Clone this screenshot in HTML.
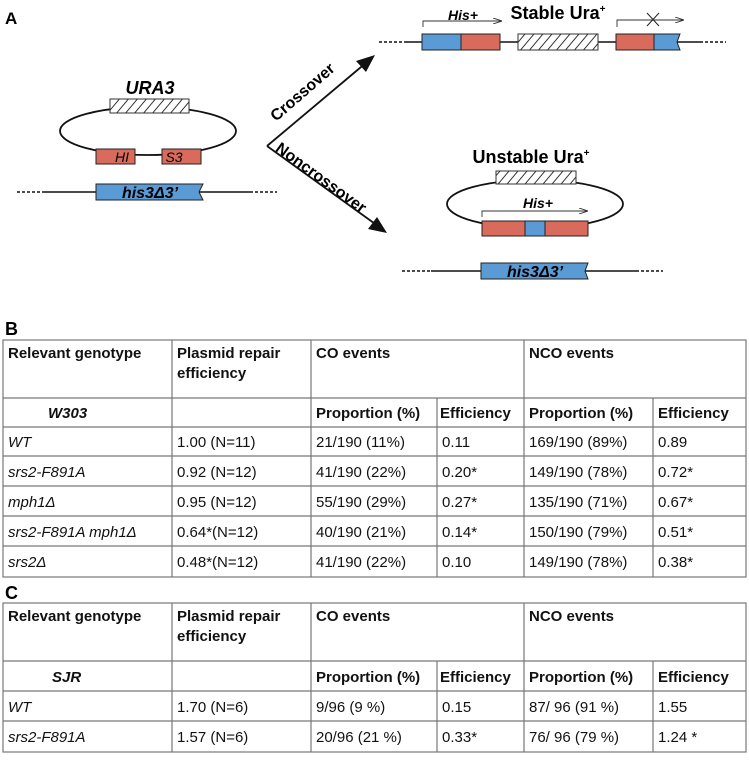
<!DOCTYPE html>
<html><head><meta charset="utf-8"><style>
html,body{margin:0;padding:0;background:#fff;}
svg{display:block;}
text{font-family:"Liberation Sans",sans-serif;}
.n{font-family:"Liberation Sans Narrow","Liberation Sans",sans-serif;}
.t{font-size:15px;fill:#111;}
.b{font-weight:bold;}
.i{font-style:italic;}
</style></head><body>
<svg width="749" height="784" viewBox="0 0 749 784" xmlns="http://www.w3.org/2000/svg">
<defs>
<pattern id="h" width="9" height="20" patternUnits="userSpaceOnUse" patternTransform="skewX(-40)">
<rect width="9" height="20" fill="#fff"/><line x1="4.5" y1="0" x2="4.5" y2="20" stroke="#222" stroke-width="1.2"/></pattern>
<marker id="ar" markerWidth="9" markerHeight="6" refX="9" refY="3" orient="auto" markerUnits="userSpaceOnUse"><path d="M0,0 L9,3 L0,6" fill="none" stroke="#333" stroke-width="0.9"/></marker>
</defs>
<text x="5" y="24" class="b" font-size="17">A</text>
<!-- left plasmid -->
<ellipse cx="148" cy="131" rx="88" ry="24" fill="none" stroke="#111" stroke-width="1.8"/>
<rect x="110" y="99" width="79" height="14" fill="url(#h)" stroke="#333" stroke-width="1"/>
<text x="150" y="94" class="n b i" font-size="18" text-anchor="middle">URA3</text>
<rect x="96" y="149" width="39" height="15" fill="#d86b5b" stroke="#222" stroke-width="1"/>
<rect x="162" y="149" width="39" height="15" fill="#d86b5b" stroke="#222" stroke-width="1"/>
<text x="122" y="162" class="n i" font-size="14" text-anchor="middle">HI</text>
<text x="174" y="162" class="n i" font-size="14" text-anchor="middle">S3</text>
<line x1="17" y1="192" x2="43" y2="192" stroke="#111" stroke-width="1.5" stroke-dasharray="3,2"/>
<line x1="43" y1="192" x2="250" y2="192" stroke="#111" stroke-width="1.5"/>
<line x1="250" y1="192" x2="277" y2="192" stroke="#111" stroke-width="1.5" stroke-dasharray="3,2"/>
<path d="M96,184 L203,184 L199,192 L203,200 L96,200 Z" fill="#5b9bd5" stroke="#222" stroke-width="1"/>
<text x="150" y="198" class="n b i" font-size="16" text-anchor="middle">his3Δ3’</text>
<!-- arrows -->
<line x1="267" y1="146" x2="367" y2="62" stroke="#111" stroke-width="1.8"/>
<path d="M375,55 L356,61 L366,72 Z" fill="#111"/>
<line x1="267" y1="146" x2="378" y2="226" stroke="#111" stroke-width="1.8"/>
<path d="M387,233 L368,229 L377,217 Z" fill="#111"/>
<text transform="translate(306,96) rotate(-41)" class="n b" font-size="16" text-anchor="middle">Crossover</text>
<text transform="translate(318,182) rotate(36)" class="n b" font-size="16" text-anchor="middle">Noncrossover</text>
<!-- top product -->
<line x1="379" y1="42" x2="407" y2="42" stroke="#111" stroke-width="1.5" stroke-dasharray="3,2"/>
<line x1="407" y1="42" x2="700" y2="42" stroke="#111" stroke-width="1.5"/>
<line x1="700" y1="42" x2="726" y2="42" stroke="#111" stroke-width="1.5" stroke-dasharray="3,2"/>
<rect x="422" y="34" width="39" height="16" fill="#5b9bd5" stroke="#222" stroke-width="1"/>
<rect x="461" y="34" width="39" height="16" fill="#d86b5b" stroke="#222" stroke-width="1"/>
<rect x="518" y="34" width="80" height="16" fill="url(#h)" stroke="#333" stroke-width="1"/>
<rect x="616" y="34" width="38" height="16" fill="#d86b5b" stroke="#222" stroke-width="1"/>
<path d="M654,34 L680,34 L677,42 L680,50 L654,50 Z" fill="#5b9bd5" stroke="#222" stroke-width="1"/>
<path d="M423,27 L423,21 L502,21" fill="none" stroke="#333" stroke-width="0.9" marker-end="url(#ar)"/>
<text x="463" y="20" class="n b i" font-size="14" text-anchor="middle">His+</text>
<text x="558" y="19" class="n b" font-size="18" text-anchor="middle">Stable Ura<tspan font-size="10" dy="-7">+</tspan></text>
<path d="M617,27 L617,20 L684,20" fill="none" stroke="#333" stroke-width="0.9" marker-end="url(#ar)"/>
<path d="M647,13 L659,26 M659,13 L647,26" stroke="#222" stroke-width="1"/>
<!-- unstable -->
<text x="531" y="163" class="n b" font-size="18" text-anchor="middle">Unstable Ura<tspan font-size="10" dy="-7">+</tspan></text>
<ellipse cx="535" cy="204" rx="88" ry="24" fill="none" stroke="#111" stroke-width="1.8"/>
<rect x="496" y="171" width="80" height="13" fill="url(#h)" stroke="#333" stroke-width="1"/>
<rect x="482" y="221" width="43" height="15" fill="#d86b5b" stroke="#222" stroke-width="1"/>
<rect x="525" y="221" width="20" height="15" fill="#5b9bd5" stroke="#222" stroke-width="1"/>
<rect x="545" y="221" width="43" height="15" fill="#d86b5b" stroke="#222" stroke-width="1"/>
<path d="M482,217 L482,211 L588,211" fill="none" stroke="#333" stroke-width="0.9" marker-end="url(#ar)"/>
<text x="538" y="208" class="n b i" font-size="14" text-anchor="middle">His+</text>
<line x1="402" y1="271" x2="431" y2="271" stroke="#111" stroke-width="1.5" stroke-dasharray="3,2"/>
<line x1="431" y1="271" x2="636" y2="271" stroke="#111" stroke-width="1.5"/>
<line x1="636" y1="271" x2="663" y2="271" stroke="#111" stroke-width="1.5" stroke-dasharray="3,2"/>
<path d="M481,263 L588,263 L585,271 L588,279 L481,279 Z" fill="#5b9bd5" stroke="#222" stroke-width="1"/>
<text x="535" y="277" class="n b i" font-size="16" text-anchor="middle">his3Δ3’</text>

<!-- Table B -->
<text x="5" y="335" class="b" font-size="18">B</text>
<g stroke="#777" stroke-width="1.2" fill="none">
<rect x="3" y="340" width="743" height="237"/>
<line x1="3" y1="398" x2="746" y2="398"/>
<line x1="3" y1="427" x2="746" y2="427"/>
<line x1="3" y1="456" x2="746" y2="456"/>
<line x1="3" y1="486" x2="746" y2="486"/>
<line x1="3" y1="516" x2="746" y2="516"/>
<line x1="3" y1="546" x2="746" y2="546"/>
<line x1="172" y1="340" x2="172" y2="577"/>
<line x1="311" y1="340" x2="311" y2="577"/>
<line x1="524" y1="340" x2="524" y2="577"/>
<line x1="437" y1="398" x2="437" y2="577"/>
<line x1="653" y1="398" x2="653" y2="577"/>
</g>
<g class="t">
<text x="8" y="358" class="b">Relevant genotype</text>
<text x="177" y="358" class="b">Plasmid repair</text>
<text x="177" y="378" class="b">efficiency</text>
<text x="316" y="358" class="b">CO events</text>
<text x="529" y="358" class="b">NCO events</text>
<text x="48" y="418" class="b i">W303</text>
<text x="316" y="418" class="b">Proportion (%)</text>
<text x="440" y="418" class="b">Efficiency</text>
<text x="529" y="418" class="b">Proportion (%)</text>
<text x="658" y="418" class="b">Efficiency</text>
<text x="8" y="447" class="i">WT</text><text x="177" y="447">1.00 (N=11)</text><text x="316" y="447">21/190 (11%)</text><text x="442" y="447">0.11</text><text x="529" y="447">169/190  (89%)</text><text x="658" y="447">0.89</text>
<text x="8" y="477" class="i">srs2-F891A</text><text x="177" y="477">0.92 (N=12)</text><text x="316" y="477">41/190 (22%)</text><text x="442" y="477">0.20*</text><text x="529" y="477">149/190  (78%)</text><text x="658" y="477">0.72*</text>
<text x="8" y="507" class="i">mph1Δ</text><text x="177" y="507">0.95 (N=12)</text><text x="316" y="507">55/190 (29%)</text><text x="442" y="507">0.27*</text><text x="529" y="507">135/190  (71%)</text><text x="658" y="507">0.67*</text>
<text x="8" y="537" class="i">srs2-F891A mph1Δ</text><text x="177" y="537">0.64*(N=12)</text><text x="316" y="537">40/190 (21%)</text><text x="442" y="537">0.14*</text><text x="529" y="537">150/190  (79%)</text><text x="658" y="537">0.51*</text>
<text x="8" y="567" class="i">srs2Δ</text><text x="177" y="567">0.48*(N=12)</text><text x="316" y="567">41/190 (22%)</text><text x="442" y="567">0.10</text><text x="529" y="567">149/190  (78%)</text><text x="658" y="567">0.38*</text>
</g>

<!-- Table C -->
<text x="5" y="599" class="b" font-size="18">C</text>
<g stroke="#777" stroke-width="1.2" fill="none">
<rect x="3" y="603" width="743" height="149"/>
<line x1="3" y1="661" x2="746" y2="661"/>
<line x1="3" y1="691" x2="746" y2="691"/>
<line x1="3" y1="721" x2="746" y2="721"/>
<line x1="172" y1="603" x2="172" y2="752"/>
<line x1="311" y1="603" x2="311" y2="752"/>
<line x1="524" y1="603" x2="524" y2="752"/>
<line x1="437" y1="661" x2="437" y2="752"/>
<line x1="653" y1="661" x2="653" y2="752"/>
</g>
<g class="t">
<text x="8" y="621" class="b">Relevant genotype</text>
<text x="177" y="621" class="b">Plasmid repair</text>
<text x="177" y="641" class="b">efficiency</text>
<text x="316" y="621" class="b">CO events</text>
<text x="529" y="621" class="b">NCO events</text>
<text x="52" y="682" class="b i">SJR</text>
<text x="316" y="682" class="b">Proportion (%)</text>
<text x="440" y="682" class="b">Efficiency</text>
<text x="529" y="682" class="b">Proportion (%)</text>
<text x="658" y="682" class="b">Efficiency</text>
<text x="8" y="712" class="i">WT</text><text x="177" y="712">1.70 (N=6)</text><text x="316" y="712">9/96 (9 %)</text><text x="442" y="712">0.15</text><text x="529" y="712">87/ 96 (91 %)</text><text x="658" y="712">1.55</text>
<text x="8" y="742" class="i">srs2-F891A</text><text x="177" y="742">1.57 (N=6)</text><text x="316" y="742">20/96 (21 %)</text><text x="442" y="742">0.33*</text><text x="529" y="742">76/ 96 (79 %)</text><text x="658" y="742">1.24 *</text>
</g>
</svg>
</body></html>
